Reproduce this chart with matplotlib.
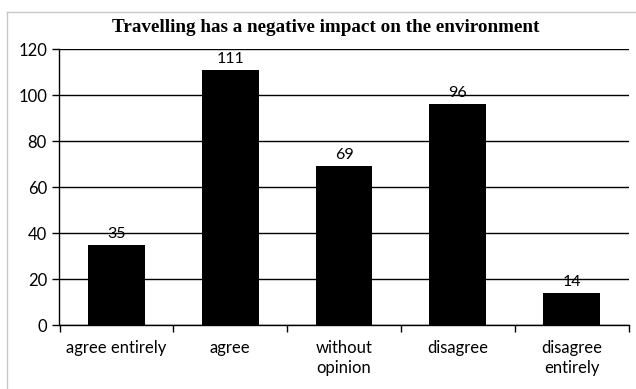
import matplotlib
matplotlib.use("Agg")
import matplotlib.pyplot as plt
from matplotlib.lines import Line2D

categories = ["agree entirely", "agree", "without\nopinion", "disagree", "disagree\nentirely"]
values = [35, 111, 69, 96, 14]
yticks = [0, 20, 40, 60, 80, 100, 120]
title = "Travelling has a negative impact on the environment"

W, H = 636, 389
fig = plt.figure(figsize=(W/100, H/100), dpi=100)
fig.patch.set_facecolor("white")
# outer chart border (cropped at right and bottom in the reference)
fig.add_artist(Line2D([7/W, 7/W], [0, 1-12/H], transform=fig.transFigure, color="#c8c8c8", linewidth=1))
fig.add_artist(Line2D([7/W, 1], [1-12/H, 1-12/H], transform=fig.transFigure, color="#c8c8c8", linewidth=1))

ax = fig.add_axes([59.5/W, 1-325/H, 569/W, 276/H])
x = list(range(len(categories)))
ax.bar(x, values, width=0.5, color="black", zorder=3)
ax.set_xlim(-0.5, len(categories)-0.5)
ax.set_ylim(0, 120)
ax.set_yticks(yticks)
ax.set_yticklabels([str(t) for t in yticks], fontsize=12, family="Lato")
ax.yaxis.grid(True, color="black", linewidth=1, zorder=0)
ax.set_axisbelow(True)
ax.set_xticks([i - 0.5 for i in range(len(categories)+1)])
ax.set_xticklabels([])
ax.set_xticks(x, minor=True)
ax.set_xticklabels(categories, minor=True, fontsize=12, family="Lato", linespacing=1.3)
ax.tick_params(axis="x", which="minor", length=0, pad=11)
ax.tick_params(axis="x", which="major", length=5, width=1, color="black", direction="out")
ax.tick_params(axis="y", length=5, width=1, direction="out", pad=4)
for s in ["top", "right"]:
    ax.spines[s].set_visible(False)
for s in ["left", "bottom"]:
    ax.spines[s].set_linewidth(1)
for xi, v in zip(x, values):
    ax.text(xi, v + 1.7, str(v), ha="center", va="bottom", fontsize=11.5, family="Lato")
fig.text(326/W, 1-27/H, title, ha="center", va="center", fontsize=13.8,
         fontweight="bold", family="Liberation Serif")
fig.savefig("out.png", dpi=100)
